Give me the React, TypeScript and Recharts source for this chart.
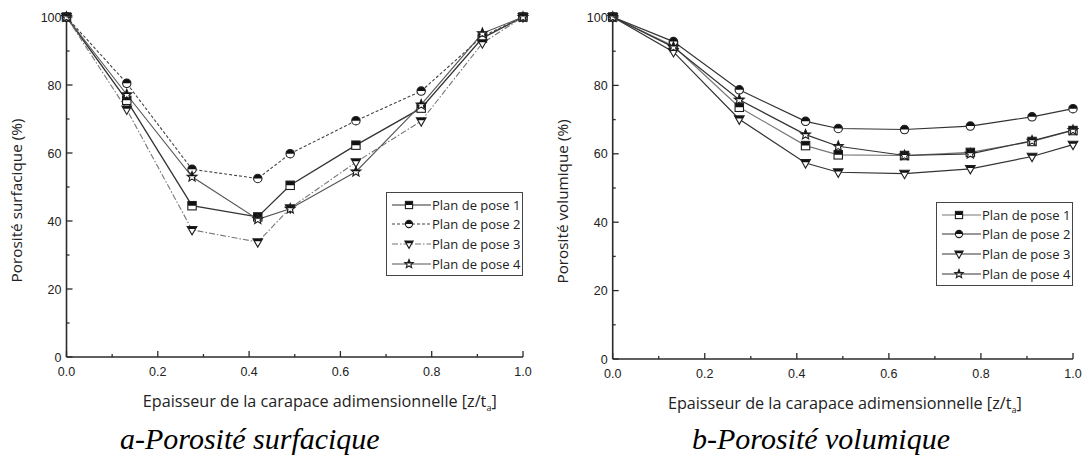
import React from 'react';
import { LineChart, Line, XAxis, YAxis, Legend } from 'recharts';

// ---------- data ----------
const xPositions = [0, 0.132, 0.275, 0.419, 0.49, 0.634, 0.777, 0.911, 1.0];

const surfPlan1 = [100, 75.5, 44.5, 41.2, 50.5, 62.3, 73.2, 93.8, 100];
const surfPlan2 = [100, 80.5, 55.2, 52.5, 59.8, 69.5, 78.2, 94.3, 100];
const surfPlan3 = [100, 72.8, 37.4, 33.8, 43.8, 57.3, 69.4, 92.3, 100];
const surfPlan4 = [100, 77.2, 53.0, 40.5, 43.6, 54.5, 74.2, 95.2, 100];

const volPlan1 = [100, 91.5, 73.6, 62.4, 59.7, 59.5, 60.4, 63.6, 66.8];
const volPlan2 = [100, 92.8, 78.7, 69.5, 67.4, 67.1, 68.1, 70.8, 73.2];
const volPlan3 = [100, 89.8, 70.1, 57.3, 54.6, 54.2, 55.6, 59.2, 62.7];
const volPlan4 = [100, 91.2, 75.8, 65.6, 62.2, 59.5, 60.0, 63.8, 66.9];

const seriesNames = ['Plan de pose 1', 'Plan de pose 2', 'Plan de pose 3', 'Plan de pose 4'];
const seriesKeys = ['p1', 'p2', 'p3', 'p4'];
const markerShapes = ['square', 'circle', 'tri', 'star'];

const xTicks = [0, 0.1, 0.2, 0.3, 0.4, 0.5, 0.6, 0.7, 0.8, 0.9, 1.0];
const yTicks = [0, 10, 20, 30, 40, 50, 60, 70, 80, 90, 100];

const xTitle = 'Epaisseur de la carapace adimensionnelle [z/t';
const xTitleSub = 'a';
const surfYTitle = 'Porosité surfacique (%)';
const volYTitle = 'Porosité volumique (%)';
const surfCaption = 'a-Porosité surfacique';
const volCaption = 'b-Porosité volumique';

function buildRows(a: number[], b: number[], c: number[], d: number[]) {
  return xPositions.map((x, i) => ({ x, p1: a[i], p2: b[i], p3: c[i], p4: d[i] }));
}
const surfRows = buildRows(surfPlan1, surfPlan2, surfPlan3, surfPlan4);
const volRows = buildRows(volPlan1, volPlan2, volPlan3, volPlan4);

// ---------- styles ----------
const AXIS = '#2b2b2b';
const TICK_FONT = '"Liberation Sans", Arial, sans-serif';
const TITLE_FONT = '"Open Sans", sans-serif';

type LineStyle = { stroke: string; width: number; dash?: string };
const surfStyles: LineStyle[] = [
  { stroke: '#333', width: 1.3 },
  { stroke: '#444', width: 1.1, dash: '3 2' },
  { stroke: '#777', width: 1.1, dash: '6 2 1.5 2' },
  { stroke: '#555', width: 1.1 },
];
const volStyles: LineStyle[] = [
  { stroke: '#777', width: 1.2 },
  { stroke: '#333', width: 1.2 },
  { stroke: '#333', width: 1.2 },
  { stroke: '#333', width: 1.2 },
];

// ---------- markers ----------
function shapeEl(shape: string, cx: number, cy: number, s: number, extra: any) {
  if (shape === 'square') return <rect x={cx - s} y={cy - s} width={2 * s} height={2 * s} {...extra} />;
  if (shape === 'circle') return <circle cx={cx} cy={cy} r={s} {...extra} />;
  if (shape === 'tri') {
    const pts = `${cx - s * 1.15},${cy - s * 0.8} ${cx + s * 1.15},${cy - s * 0.8} ${cx},${cy + s * 1.2}`;
    return <polygon points={pts} {...extra} />;
  }
  const pts: string[] = [];
  for (let k = 0; k < 10; k++) {
    const r = k % 2 === 0 ? s * 1.25 : s * 0.55;
    const a = -Math.PI / 2 + (k * Math.PI) / 5;
    pts.push(`${cx + r * Math.cos(a)},${cy + r * Math.sin(a)}`);
  }
  return <polygon points={pts.join(' ')} {...extra} />;
}

function Marker({ cx, cy, shape, s = 4 }: { cx: number; cy: number; shape: string; s?: number }) {
  if (cx == null || cy == null || isNaN(cx) || isNaN(cy)) return null;
  const clip = shape === 'tri' ? 'url(#topThird)' : 'url(#topHalf)';
  return (
    <g>
      {shapeEl(shape, cx, cy, s, { fill: '#fff', stroke: 'none' })}
      {shapeEl(shape, cx, cy, s, { fill: '#111', stroke: 'none', clipPath: clip })}
      {shapeEl(shape, cx, cy, s, { fill: 'none', stroke: '#1e1e1e', strokeWidth: 1.1 })}
    </g>
  );
}

// ---------- ticks ----------
function BottomTick(props: any) {
  const { x, y, payload } = props;
  const v = payload.value;
  const major = Math.round(v * 10) % 2 === 0;
  return (
    <g>
      <line x1={x} y1={y} x2={x} y2={y - (major ? 6 : 3)} stroke={AXIS} strokeWidth={1.3} />
      {major && (
        <text x={x} y={y + 19} textAnchor="middle" fontFamily={TICK_FONT} fontSize={12.5} fill="#222">
          {v.toFixed(1)}
        </text>
      )}
    </g>
  );
}
function TopTick(props: any) {
  const { x, y } = props;
  return <line x1={x} y1={y} x2={x} y2={y + 3} stroke={AXIS} strokeWidth={1.2} />;
}
function LeftTick(props: any) {
  const { x, y, payload } = props;
  const v = payload.value;
  const major = Math.round(v) % 20 === 0;
  return (
    <g>
      <line x1={x} y1={y} x2={x + (major ? 6 : 3)} y2={y} stroke={AXIS} strokeWidth={1.3} />
      {major && (
        <text x={x - 5} y={y + 4.5} textAnchor="end" fontFamily={TICK_FONT} fontSize={12.5} fill="#222">
          {v}
        </text>
      )}
    </g>
  );
}

// ---------- legend ----------
function LegendBox({ styles }: { styles: LineStyle[] }) {
  return (
    <div
      style={{
        width: 137,
        boxSizing: 'border-box',
        border: '1px solid #444',
        background: '#fff',
        padding: '2px 0 2px 0',
      }}
    >
      {seriesNames.map((name, i) => (
        <div key={name} style={{ display: 'flex', alignItems: 'center', height: 19.6 }}>
          <svg width={45} height={14} style={{ flex: 'none' }}>
            <line
              x1={5}
              y1={7}
              x2={44}
              y2={7}
              stroke={styles[i].stroke}
              strokeWidth={1.2}
              strokeDasharray={styles[i].dash}
            />
            <Marker cx={22} cy={7} shape={markerShapes[i]} s={3.6} />
          </svg>
          <span style={{ fontFamily: TITLE_FONT, fontSize: 13, color: '#222', whiteSpace: 'nowrap', lineHeight: '16px' }}>
            {name}
          </span>
        </div>
      ))}
    </div>
  );
}

// ---------- chart ----------
type ChartProps = {
  width: number;
  height: number;
  margin: { top: number; right: number; left: number; bottom: number };
  yAxisWidth: number;
  xAxisHeight: number;
  rows: any[];
  styles: LineStyle[];
  yTitle: string;
  xTitleShift: number;
  yTitleX: number;
  legendPos: { left: number; top: number };
};

function PorosityChart(p: ChartProps) {
  const xLabel = (lp: any) => {
    const vb = lp.viewBox || {};
    const cx = vb.x + vb.width / 2 + p.xTitleShift;
    const y = vb.y + 49.5;
    return (
      <text x={cx} y={y} textAnchor="middle" fontFamily={TITLE_FONT} fontSize={16.2} fill="#222">
        {xTitle}
        <tspan fontSize={9} dy={4}>{xTitleSub}</tspan>
        <tspan fontSize={16.2} dy={-4}>]</tspan>
      </text>
    );
  };
  const yLabel = (lp: any) => {
    const vb = lp.viewBox || {};
    const cy = vb.y + vb.height / 2 + 13.5;
    const x = p.yTitleX;
    return (
      <text
        x={x}
        y={cy}
        transform={`rotate(-90 ${x} ${cy})`}
        textAnchor="middle"
        fontFamily={TITLE_FONT}
        fontSize={15.3}
        fill="#222"
      >
        {p.yTitle}
      </text>
    );
  };
  return (
    <LineChart width={p.width} height={p.height} data={p.rows} margin={p.margin}>
      <XAxis
        xAxisId="bottom"
        dataKey="x"
        type="number"
        domain={[0, 1]}
        ticks={xTicks}
        interval={0}
        tickSize={0}
        tickMargin={0}
        height={p.xAxisHeight}
        axisLine={{ stroke: AXIS, strokeWidth: 1.6 }}
        tickLine={false}
        tick={<BottomTick />}
        label={{ content: xLabel }}
      />
      <XAxis
        xAxisId="top"
        orientation="top"
        dataKey="x"
        type="number"
        domain={[0, 1]}
        ticks={xTicks}
        interval={0}
        tickSize={0}
        tickMargin={0}
        height={0}
        axisLine={{ stroke: AXIS, strokeWidth: 1.6 }}
        tickLine={false}
        tick={<TopTick />}
      />
      <YAxis
        yAxisId="left"
        type="number"
        domain={[0, 100]}
        ticks={yTicks}
        interval={0}
        tickSize={0}
        tickMargin={0}
        width={p.yAxisWidth}
        axisLine={{ stroke: AXIS, strokeWidth: 1.6 }}
        tickLine={false}
        tick={<LeftTick />}
        label={{ content: yLabel }}
      />
      <YAxis
        yAxisId="right"
        orientation="right"
        type="number"
        domain={[0, 100]}
        width={0}
        tick={false}
        tickLine={false}
        axisLine={{ stroke: AXIS, strokeWidth: 1.6 }}
      />
      <Legend
        layout="horizontal"
        verticalAlign="middle"
        align="center"
        wrapperStyle={{ position: 'absolute', left: p.legendPos.left, top: p.legendPos.top, width: 137 }}
        content={() => <LegendBox styles={p.styles} />}
      />
      {seriesKeys.map((k, i) => (
        <Line
          key={k}
          xAxisId="bottom"
          yAxisId="left"
          type="linear"
          dataKey={k}
          name={seriesNames[i]}
          stroke={p.styles[i].stroke}
          strokeWidth={p.styles[i].width}
          strokeDasharray={p.styles[i].dash}
          isAnimationActive={false}
          activeDot={false}
          dot={(dp: any) => <Marker key={`${k}-${dp.index}`} cx={dp.cx} cy={dp.cy} shape={markerShapes[i]} s={4.2} />}
        />
      ))}
    </LineChart>
  );
}

export default function App() {
  return (
    <div
      style={{
        position: 'absolute',
        left: 0,
        top: 0,
        width: 1083,
        height: 457,
        background: '#fff',
        overflow: 'hidden',
      }}
    >
      <svg width={0} height={0} style={{ position: 'absolute' }}>
        <defs>
          <clipPath id="topHalf" clipPathUnits="objectBoundingBox">
            <rect x={0} y={0} width={1} height={0.5} />
          </clipPath>
          <clipPath id="topThird" clipPathUnits="objectBoundingBox">
            <rect x={0} y={0} width={1} height={0.3} />
          </clipPath>
        </defs>
      </svg>
      <div style={{ position: 'absolute', left: 0, top: 0 }}>
        <PorosityChart
          width={540}
          height={457}
          margin={{ top: 17, right: 17, left: 0, bottom: 0 }}
          yAxisWidth={66.5}
          xAxisHeight={100}
          rows={surfRows}
          styles={surfStyles}
          yTitle={surfYTitle}
          xTitleShift={25}
          yTitleX={22}
          legendPos={{ left: 386, top: 192 }}
        />
      </div>
      <div style={{ position: 'absolute', left: 540, top: 0 }}>
        <PorosityChart
          width={543}
          height={457}
          margin={{ top: 17, right: 10, left: 0, bottom: 0 }}
          yAxisWidth={72.7}
          xAxisHeight={98}
          rows={volRows}
          styles={volStyles}
          yTitle={volYTitle}
          xTitleShift={2}
          yTitleX={27.5}
          legendPos={{ left: 396, top: 202 }}
        />
      </div>
      <svg width={1083} height={457} style={{ position: 'absolute', left: 0, top: 0, pointerEvents: 'none' }}>
        <text x={120} y={449} fontFamily='"Liberation Serif", "Times New Roman", serif' fontStyle="italic" fontSize={30} fill="#000">
          {surfCaption}
        </text>
        <text x={692} y={449} fontFamily='"Liberation Serif", "Times New Roman", serif' fontStyle="italic" fontSize={30} fill="#000">
          {volCaption}
        </text>
      </svg>
    </div>
  );
}
